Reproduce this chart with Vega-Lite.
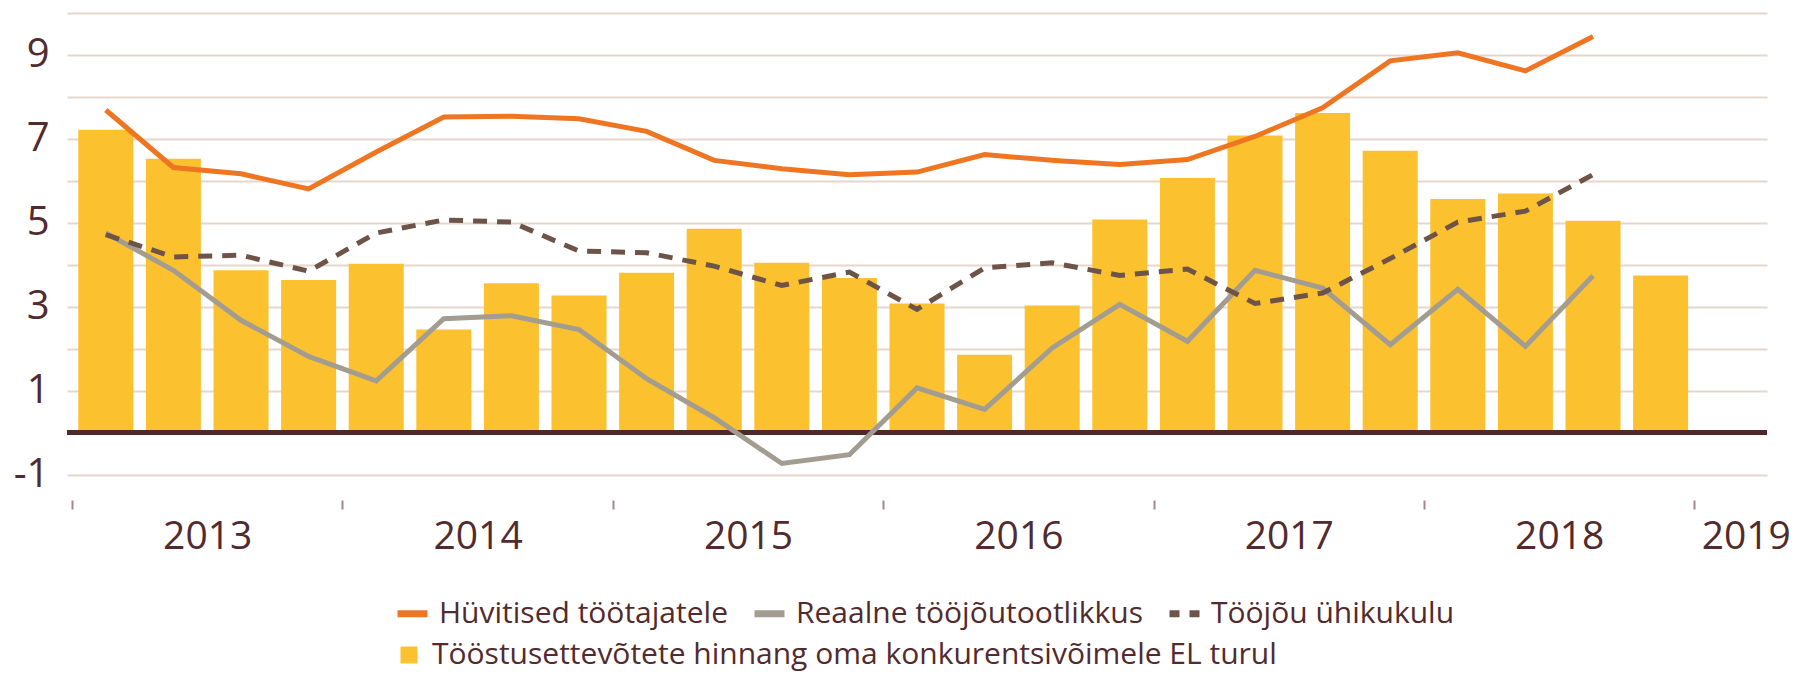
{
  "$schema": "https://vega.github.io/schema/vega-lite/v6.json",
  "width": 1700,
  "height": 487,
  "autosize": {"type": "none"},
  "padding": {"left": 67, "top": 13, "right": 34, "bottom": 175},
  "background": "white",
  "config": {"view": {"stroke": null}, "font": "Open Sans", "legend": {"padding": 0}},
  "resolve": {"scale": {"color": "independent"}},
  "data": {
    "values": [
      {"kvartal": "2013 I", "aeg": 2013.125, "Tööstusettevõtete hinnang oma konkurentsivõimele EL turul": 7.22, "Hüvitised töötajatele": 7.69, "Reaalne tööjõutootlikkus": 4.76, "Tööjõu ühikukulu": 4.72},
      {"kvartal": "2013 II", "aeg": 2013.375, "Tööstusettevõtete hinnang oma konkurentsivõimele EL turul": 6.53, "Hüvitised töötajatele": 6.32, "Reaalne tööjõutootlikkus": 3.87, "Tööjõu ühikukulu": 4.19},
      {"kvartal": "2013 III", "aeg": 2013.625, "Tööstusettevõtete hinnang oma konkurentsivõimele EL turul": 3.87, "Hüvitised töötajatele": 6.17, "Reaalne tööjõutootlikkus": 2.68, "Tööjõu ühikukulu": 4.23},
      {"kvartal": "2013 IV", "aeg": 2013.875, "Tööstusettevõtete hinnang oma konkurentsivõimele EL turul": 3.64, "Hüvitised töötajatele": 5.81, "Reaalne tööjõutootlikkus": 1.82, "Tööjõu ühikukulu": 3.85},
      {"kvartal": "2014 I", "aeg": 2014.125, "Tööstusettevõtete hinnang oma konkurentsivõimele EL turul": 4.03, "Hüvitised töötajatele": 6.69, "Reaalne tööjõutootlikkus": 1.24, "Tööjõu ühikukulu": 4.76},
      {"kvartal": "2014 II", "aeg": 2014.375, "Tööstusettevõtete hinnang oma konkurentsivõimele EL turul": 2.46, "Hüvitised töötajatele": 7.52, "Reaalne tööjõutootlikkus": 2.72, "Tööjõu ühikukulu": 5.07},
      {"kvartal": "2014 III", "aeg": 2014.625, "Tööstusettevõtete hinnang oma konkurentsivõimele EL turul": 3.56, "Hüvitised töötajatele": 7.54, "Reaalne tööjõutootlikkus": 2.79, "Tööjõu ühikukulu": 5.02},
      {"kvartal": "2014 IV", "aeg": 2014.875, "Tööstusettevõtete hinnang oma konkurentsivõimele EL turul": 3.27, "Hüvitised töötajatele": 7.48, "Reaalne tööjõutootlikkus": 2.46, "Tööjõu ühikukulu": 4.33},
      {"kvartal": "2015 I", "aeg": 2015.125, "Tööstusettevõtete hinnang oma konkurentsivõimele EL turul": 3.81, "Hüvitised töötajatele": 7.18, "Reaalne tööjõutootlikkus": 1.29, "Tööjõu ühikukulu": 4.29},
      {"kvartal": "2015 II", "aeg": 2015.375, "Tööstusettevõtete hinnang oma konkurentsivõimele EL turul": 4.86, "Hüvitised töötajatele": 6.49, "Reaalne tööjõutootlikkus": 0.36, "Tööjõu ühikukulu": 3.97},
      {"kvartal": "2015 III", "aeg": 2015.625, "Tööstusettevõtete hinnang oma konkurentsivõimele EL turul": 4.05, "Hüvitised töötajatele": 6.29, "Reaalne tööjõutootlikkus": -0.73, "Tööjõu ühikukulu": 3.51},
      {"kvartal": "2015 IV", "aeg": 2015.875, "Tööstusettevõtete hinnang oma konkurentsivõimele EL turul": 3.69, "Hüvitised töötajatele": 6.15, "Reaalne tööjõutootlikkus": -0.52, "Tööjõu ühikukulu": 3.83},
      {"kvartal": "2016 I", "aeg": 2016.125, "Tööstusettevõtete hinnang oma konkurentsivõimele EL turul": 3.08, "Hüvitised töötajatele": 6.21, "Reaalne tööjõutootlikkus": 1.07, "Tööjõu ühikukulu": 2.94},
      {"kvartal": "2016 II", "aeg": 2016.375, "Tööstusettevõtete hinnang oma konkurentsivõimele EL turul": 1.86, "Hüvitised töötajatele": 6.63, "Reaalne tööjõutootlikkus": 0.56, "Tööjõu ühikukulu": 3.93},
      {"kvartal": "2016 III", "aeg": 2016.625, "Tööstusettevõtete hinnang oma konkurentsivõimele EL turul": 3.03, "Hüvitised töötajatele": 6.49, "Reaalne tööjõutootlikkus": 2.02, "Tööjõu ühikukulu": 4.05},
      {"kvartal": "2016 IV", "aeg": 2016.875, "Tööstusettevõtete hinnang oma konkurentsivõimele EL turul": 5.08, "Hüvitised töötajatele": 6.39, "Reaalne tööjõutootlikkus": 3.06, "Tööjõu ühikukulu": 3.75},
      {"kvartal": "2017 I", "aeg": 2017.125, "Tööstusettevõtete hinnang oma konkurentsivõimele EL turul": 6.07, "Hüvitised töötajatele": 6.51, "Reaalne tööjõutootlikkus": 2.18, "Tööjõu ühikukulu": 3.90},
      {"kvartal": "2017 II", "aeg": 2017.375, "Tööstusettevõtete hinnang oma konkurentsivõimele EL turul": 7.08, "Hüvitised töötajatele": 7.06, "Reaalne tööjõutootlikkus": 3.87, "Tööjõu ühikukulu": 3.08},
      {"kvartal": "2017 III", "aeg": 2017.625, "Tööstusettevõtete hinnang oma konkurentsivõimele EL turul": 7.62, "Hüvitised töötajatele": 7.74, "Reaalne tööjõutootlikkus": 3.45, "Tööjõu ühikukulu": 3.33},
      {"kvartal": "2017 IV", "aeg": 2017.875, "Tööstusettevõtete hinnang oma konkurentsivõimele EL turul": 6.72, "Hüvitised töötajatele": 8.86, "Reaalne tööjõutootlikkus": 2.10, "Tööjõu ühikukulu": 4.15},
      {"kvartal": "2018 I", "aeg": 2018.125, "Tööstusettevõtete hinnang oma konkurentsivõimele EL turul": 5.57, "Hüvitised töötajatele": 9.05, "Reaalne tööjõutootlikkus": 3.42, "Tööjõu ühikukulu": 5.02},
      {"kvartal": "2018 II", "aeg": 2018.375, "Tööstusettevõtete hinnang oma konkurentsivõimele EL turul": 5.70, "Hüvitised töötajatele": 8.62, "Reaalne tööjõutootlikkus": 2.06, "Tööjõu ühikukulu": 5.28},
      {"kvartal": "2018 III", "aeg": 2018.625, "Tööstusettevõtete hinnang oma konkurentsivõimele EL turul": 5.05, "Hüvitised töötajatele": 9.44, "Reaalne tööjõutootlikkus": 3.74, "Tööjõu ühikukulu": 6.15},
      {"kvartal": "2018 IV", "aeg": 2018.875, "Tööstusettevõtete hinnang oma konkurentsivõimele EL turul": 3.75, "Hüvitised töötajatele": null, "Reaalne tööjõutootlikkus": null, "Tööjõu ühikukulu": null}
    ]
  },
  "layer": [
    {
      "transform": [{"fold": ["Tööstusettevõtete hinnang oma konkurentsivõimele EL turul"], "as": ["seeria", "v"]}],
      "mark": {"type": "bar", "width": 55},
      "encoding": {
        "x": {
          "field": "aeg", "type": "quantitative",
          "scale": {"domain": [2013, 2019.25], "nice": false, "zero": false},
          "axis": {
            "title": null, "domain": false, "grid": false,
            "values": [2013, 2013.5, 2014, 2014.5, 2015, 2015.5, 2016, 2016.5, 2017, 2017.5, 2018, 2018.5, 2019, 2019.19],
            "labelExpr": "datum.value % 1 == 0 ? '' : '' + floor(datum.value)",
            "tickOpacity": {"condition": {"test": "datum.value % 1 == 0", "value": 1}, "value": 0},
            "tickSize": 9, "tickWidth": 2, "tickColor": "#9E8A88",
            "labelFont": "Open Sans", "labelFontSize": 39, "labelColor": "#512B2E",
            "labelPadding": 8, "labelFlush": false, "labelOverlap": false, "labelBound": false
          }
        },
        "y": {
          "field": "v", "type": "quantitative",
          "scale": {"domain": [-1.6, 10], "nice": false, "zero": false},
          "axis": {
            "title": null, "domain": false, "ticks": false, "tickSize": 0,
            "values": [-1, 0, 1, 2, 3, 4, 5, 6, 7, 8, 9, 10],
            "labelExpr": "datum.value % 2 != 0 ? '' + datum.value : ''",
            "grid": true, "gridColor": "#E6D6CB", "gridWidth": 2,
            "labelFont": "Open Sans", "labelFontSize": 40, "labelColor": "#512B2E",
            "labelPadding": 18
          }
        },
        "color": {
          "field": "seeria", "type": "nominal",
          "scale": {"domain": ["Tööstusettevõtete hinnang oma konkurentsivõimele EL turul"], "range": ["#FCC12E"]},
          "legend": {
            "title": null, "orient": "none", "legendX": 327, "legendY": 627, "direction": "horizontal",
            "labelOffset": 8, "labelFont": "Open Sans", "labelFontSize": 30, "labelColor": "#512B2E", "labelLimit": 2000,
            "symbolType": "square", "symbolSize": 289, "symbolStrokeWidth": 0, "symbolOpacity": 1
          }
        }
      }
    },
    {
      "mark": {"type": "rule", "color": "#4E2A2A", "strokeWidth": 4},
      "encoding": {"y": {"datum": 0, "type": "quantitative"}}
    },
    {
      "transform": [{"fold": ["Hüvitised töötajatele", "Reaalne tööjõutootlikkus", "Tööjõu ühikukulu"], "as": ["seeria", "v"]}],
      "mark": {"type": "line"},
      "encoding": {
        "x": {"field": "aeg", "type": "quantitative"},
        "y": {"field": "v", "type": "quantitative"},
        "color": {
          "field": "seeria", "type": "nominal",
          "scale": {"domain": ["Hüvitised töötajatele", "Reaalne tööjõutootlikkus", "Tööjõu ühikukulu"], "range": ["#EE7623", "#A39D91", "#6E5448"]},
          "legend": {
            "title": null, "orient": "none", "legendX": 327, "legendY": 582, "direction": "horizontal",
            "columnPadding": 12, "labelOffset": 8,
            "labelFont": "Open Sans", "labelFontSize": 30, "labelColor": "#512B2E", "labelLimit": 2000,
            "symbolType": "stroke", "symbolSize": 900, "symbolStrokeWidth": 7,
            "encode": {
              "symbols": {
                "update": {
                  "strokeDash": {"signal": "datum.value == 'Tööjõu ühikukulu' ? [10, 10] : [1000, 0]"},
                  "strokeWidth": {"value": 7},
                  "opacity": {"value": 1}
                }
              }
            }
          }
        },
        "strokeDash": {
          "field": "seeria", "type": "nominal",
          "scale": {"domain": ["Hüvitised töötajatele", "Reaalne tööjõutootlikkus", "Tööjõu ühikukulu"], "range": [[1000, 0], [1000, 0], [14, 10]]},
          "legend": null
        },
        "strokeWidth": {
          "field": "seeria", "type": "nominal",
          "scale": {"domain": ["Hüvitised töötajatele", "Reaalne tööjõutootlikkus", "Tööjõu ühikukulu"], "range": [5, 5, 4]},
          "legend": null
        }
      }
    }
  ]
}
